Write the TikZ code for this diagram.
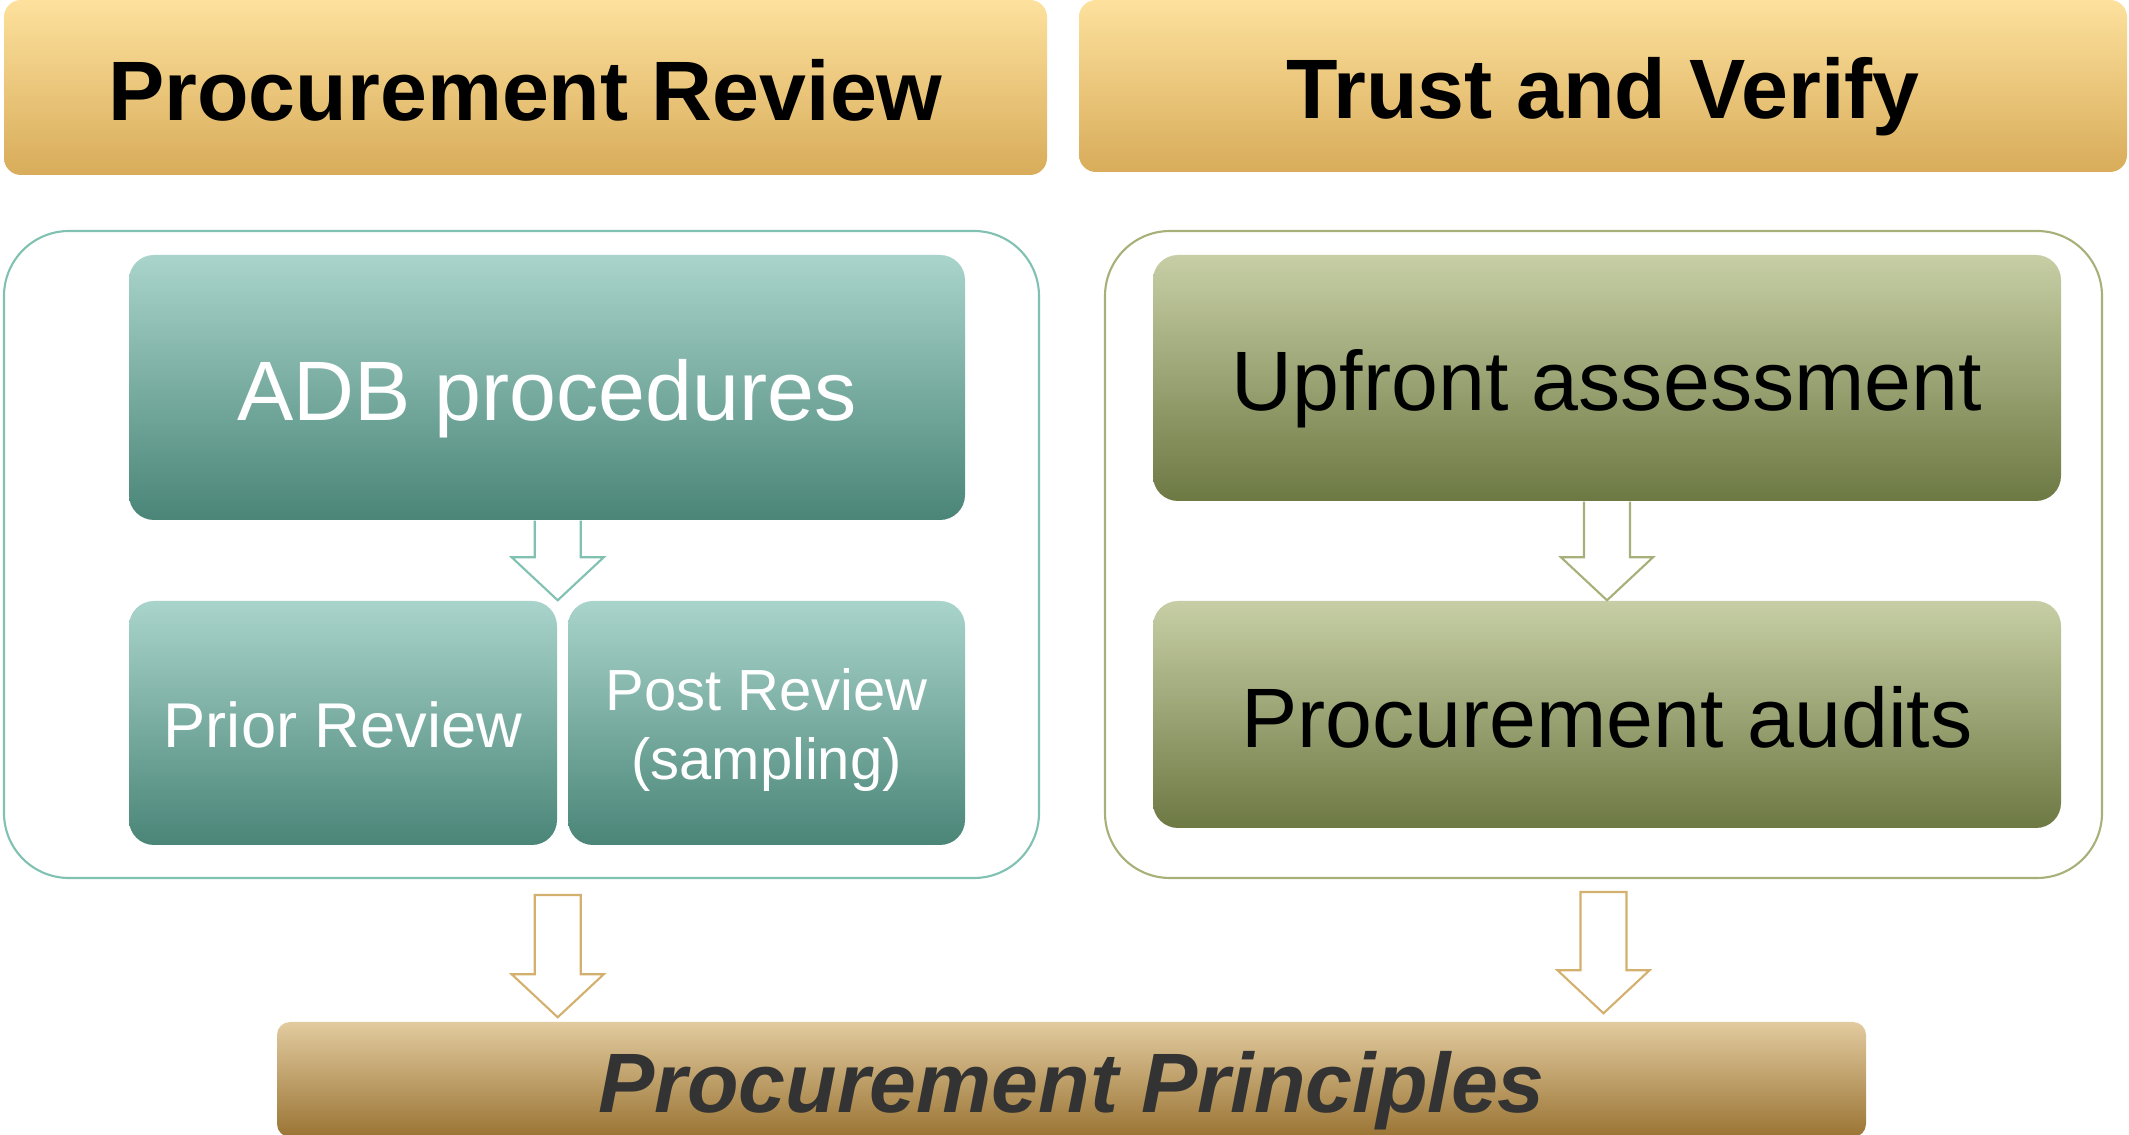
\documentclass[tikz,border=0pt]{standalone}
\usepackage{fontspec}
\setmainfont{Liberation Sans}
\usetikzlibrary{calc}

\definecolor{headtop}{HTML}{FDE19D}
\definecolor{headbot}{HTML}{D8AC5A}
\definecolor{tealtop}{HTML}{A9D4CB}
\definecolor{tealbot}{HTML}{4A8578}
\definecolor{tealline}{HTML}{80C1B2}
\definecolor{olivetop}{HTML}{C7CEA5}
\definecolor{olivebot}{HTML}{6D7943}
\definecolor{oliveline}{HTML}{A6B078}
\definecolor{goldtop}{HTML}{E2CB9F}
\definecolor{goldbot}{HTML}{9A7434}
\definecolor{goldline}{HTML}{D3B06E}
\definecolor{bartext}{HTML}{333333}

% hollow block arrow: colour, start, tip, end of path
\newcommand{\hollowarrow}[4]{%
  \draw[#1, line width=0.6pt, fill=white, line join=miter]
    ($(#2)+(-0.23,0)$) -- ($(#3)+(-0.23,0.43)$) -- ($(#3)+(-0.46,0.43)$) -- (#3)
    -- ($(#3)+(0.46,0.43)$) -- ($(#3)+(0.23,0.43)$) -- ($(#2)+(0.23,0)$) #4;}

\tikzset{
  oneline/.style={text height=21.6pt, text depth=2.9pt},
  bigtext/.style={font=\fontsize{24}{28}\selectfont, oneline},
  header/.style={rounded corners=1.7mm, top color=headtop, bottom color=headbot,
    inner sep=0pt, font=\fontsize{24}{28}\selectfont\bfseries, oneline},
  frame/.style={rounded corners=6.5mm, line width=0.6pt, fill=white, inner sep=0pt,
    minimum width=#1, minimum height=6.47cm},
  tealbox/.style={rounded corners=2.5mm, top color=tealtop, bottom color=tealbot,
    text=white, inner sep=0pt},
  olivebox/.style={bigtext, rounded corners=2.5mm, top color=olivetop, bottom color=olivebot,
    text=black, inner sep=0pt, minimum width=9.08cm},
  principles/.style={rounded corners=1.3mm, top color=goldtop, bottom color=goldbot,
    text=bartext, inner sep=0pt, font=\fontsize{24}{28}\selectfont\bfseries\itshape, oneline},
}

\begin{document}
\begin{tikzpicture}
\useasboundingbox (0,0) rectangle (21.29,-11.35);

% headers
\node[header, minimum width=10.43cm, minimum height=1.75cm] (headL) at (5.255,-0.875) {Procurement Review};
\node[header, minimum width=10.48cm, minimum height=1.72cm] (headR) at (16.03,-0.86) {Trust and Verify};

% frames
\node[frame=10.35cm, draw=tealline] (contL) at (5.215,-5.545) {};
\node[frame=9.97cm, draw=oliveline] (contR) at (16.035,-5.545) {};

% left column
\node[tealbox, bigtext, minimum width=8.36cm, minimum height=2.65cm] (adb) at (5.47,-3.875) {ADB procedures};
\node[tealbox, font=\fontsize{18}{22}\selectfont, text height=16.2pt, text depth=2.2pt,
  minimum width=4.28cm, minimum height=2.44cm] (prior) at (3.43,-7.23) {Prior Review};
\node[tealbox, font=\fontsize{16.5}{19.8}\selectfont, align=center, text height=35.4pt, text depth=3pt,
  minimum width=3.97cm, minimum height=2.44cm] (post) at (7.665,-7.23) {Post Review\\(sampling)};

% right column
\node[olivebox, minimum height=2.46cm] (upfront) at (16.07,-3.78) {Upfront assessment};
\node[olivebox, minimum height=2.27cm] (audits) at (16.07,-7.145) {Procurement audits};

% bottom bar
\node[principles, minimum width=15.89cm, minimum height=1.15cm] (bar) at (10.715,-10.795) {Procurement Principles};

% arrows
\hollowarrow{tealline}{adb.south -| prior.east}{prior.north -| prior.east}{}
\hollowarrow{oliveline}{upfront.south}{audits.north}{}
\hollowarrow{goldline}{$(contL.south -| prior.east)+(0,-0.16)$}{$(bar.north -| prior.east)+(0,0.04)$}{-- cycle}
\hollowarrow{goldline}{$(contR.south)+(0,-0.13)$}{$(bar.north -| contR.south)+(0,0.08)$}{-- cycle}
\end{tikzpicture}
\end{document}
